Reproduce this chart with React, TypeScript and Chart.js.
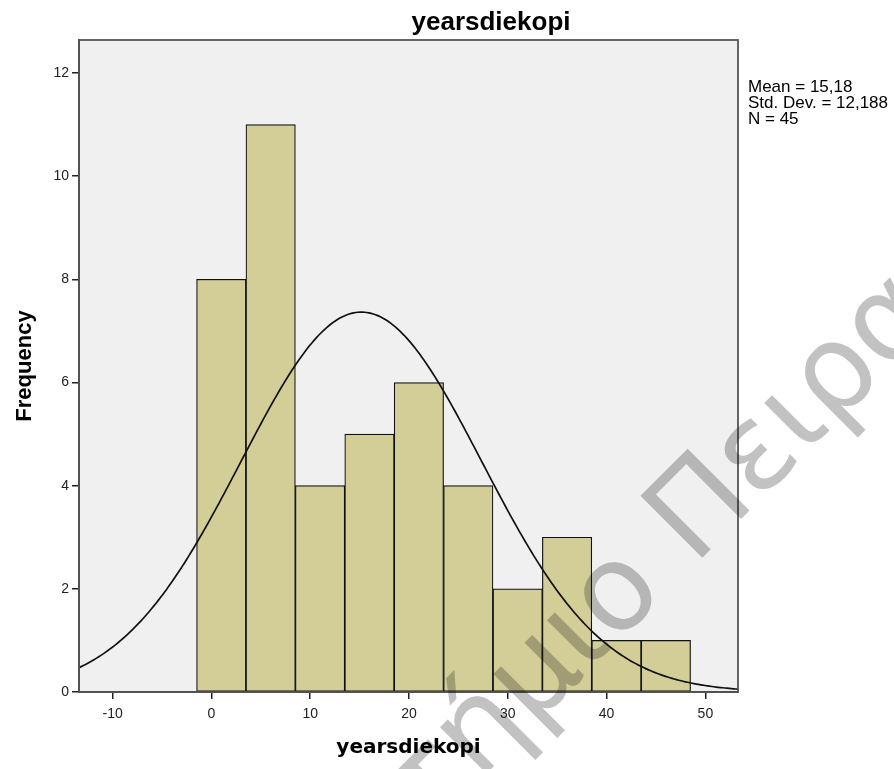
import React, { useEffect, useRef } from 'react';
import { Chart, registerables } from 'chart.js';
Chart.register(...registerables);

// Histogram data
const binCenters = [1, 6, 11, 16, 21, 26, 31, 36, 41, 46];
const frequencies = [8, 11, 4, 5, 6, 4, 2, 3, 1, 1];
const xTickValues = [-10, 0, 10, 20, 30, 40, 50];
const yTickValues = [0, 2, 4, 6, 8, 10, 12];

// Summary statistics shown on the chart (the normal curve is fitted from them)
const MEAN = 15.18;
const SD = 12.188;
const N = 45;
const BIN_WIDTH = 5;
const statsLines = ['Mean = 15,18', 'Std. Dev. = 12,188', 'N = 45'];

const X_MIN = -13.4;
const X_MAX = 53.3;
const Y_MAX = 12.64;

const titleText = 'yearsdiekopi';
const xTitle = 'yearsdiekopi';
const yTitle = 'Frequency';
const watermarkPre = 'Πανεπιστήμιο ';
const watermarkPost = 'Πειραιώς';

function normalCurve() {
  const pts: { x: number; y: number }[] = [];
  const steps = 300;
  for (let i = 0; i <= steps; i++) {
    const x = X_MIN + ((X_MAX - X_MIN) * i) / steps;
    const z = (x - MEAN) / SD;
    const y = (N * BIN_WIDTH * Math.exp(-0.5 * z * z)) / (SD * Math.sqrt(2 * Math.PI));
    pts.push({ x, y });
  }
  return pts;
}

const decorPlugin = {
  id: 'decor',
  beforeDraw(chart: any) {
    const { ctx, chartArea: a } = chart;
    ctx.save();
    ctx.fillStyle = '#ffffff';
    ctx.fillRect(0, 0, chart.width, chart.height);
    ctx.fillStyle = '#f0f0f0';
    ctx.fillRect(a.left, a.top, a.right - a.left, a.bottom - a.top);
    ctx.restore();
  },
  afterDatasetsDraw(chart: any) {
    const { ctx, chartArea: a } = chart;
    ctx.save();
    ctx.strokeStyle = '#555555';
    ctx.lineWidth = 1.8;
    ctx.strokeRect(a.left, a.top, a.right - a.left, a.bottom - a.top);
    ctx.restore();
  },
  afterDraw(chart: any) {
    const { ctx } = chart;
    ctx.save();
    ctx.fillStyle = '#000000';
    ctx.font = 'bold 26px "Liberation Sans", Arial, sans-serif';
    ctx.textAlign = 'center';
    ctx.textBaseline = 'alphabetic';
    ctx.fillText(titleText, 491, 30);

    ctx.font = '17px "Liberation Sans", Arial, sans-serif';
    ctx.textAlign = 'left';
    statsLines.forEach((t, i) => ctx.fillText(t, 748, 92 + i * 16));

    // watermark
    ctx.globalCompositeOperation = 'multiply';
    ctx.translate(694, 566);
    ctx.rotate(-Math.PI / 4);
    ctx.font = '120px "DejaVu Sans", sans-serif';
    ctx.fillStyle = '#c2c2c2';
    ctx.textBaseline = 'alphabetic';
    ctx.textAlign = 'left';
    const w = ctx.measureText(watermarkPre).width;
    ctx.fillText(watermarkPre + watermarkPost, -w, 0);
    ctx.restore();
  },
};

export default function App() {
  const ref = useRef<HTMLCanvasElement>(null);
  useEffect(() => {
    if (!ref.current) return;
    const chart = new Chart(ref.current, {
      type: 'bar',
      data: {
        datasets: [
          {
            type: 'line',
            data: normalCurve(),
            borderColor: '#111111',
            borderWidth: 1.7,
            pointRadius: 0,
            tension: 0,
            order: 0,
          } as any,
          {
            type: 'bar',
            data: binCenters.map((c, i) => ({ x: c, y: frequencies[i] })),
            backgroundColor: '#d3ce98',
            borderColor: '#111111',
            borderWidth: 1.2,
            borderSkipped: false,
            barPercentage: 1,
            categoryPercentage: 1,
            order: 1,
          } as any,
        ],
      },
      options: {
        responsive: false,
        animation: false,
        layout: { padding: { top: 40, right: 156, left: 0, bottom: 0 } },
        plugins: { legend: { display: false }, tooltip: { enabled: false }, title: { display: false } },
        scales: {
          x: {
            type: 'linear',
            min: X_MIN,
            max: X_MAX,
            offset: false,
            afterBuildTicks: (s: any) => {
              s.ticks = xTickValues.map((v) => ({ value: v }));
            },
            afterFit: (s: any) => {
              s.height = 77;
            },
            grid: { display: true, offset: false, drawOnChartArea: false, drawTicks: true, tickLength: 7, color: '#222222', lineWidth: 1.5 },
            border: { display: true, color: '#222222', width: 1.8 },
            ticks: {
              color: '#222222',
              font: { family: '"Liberation Sans", Arial, sans-serif', size: 14 },
              padding: 7,
              maxRotation: 0,
              autoSkip: false,
            },
            title: {
              display: true,
              text: xTitle,
              color: '#000000',
              font: { family: '"DejaVu Sans", sans-serif', size: 20, weight: 'bold' },
              padding: { top: 0, bottom: 9 },
            },
          },
          y: {
            type: 'linear',
            min: 0,
            max: Y_MAX,
            afterBuildTicks: (s: any) => {
              s.ticks = yTickValues.map((v) => ({ value: v }));
            },
            afterFit: (s: any) => {
              s.width = 79;
            },
            grid: { display: true, offset: false, drawOnChartArea: false, drawTicks: true, tickLength: 7, color: '#222222', lineWidth: 1.5 },
            border: { display: true, color: '#222222', width: 1.8 },
            ticks: {
              color: '#222222',
              font: { family: '"Liberation Sans", Arial, sans-serif', size: 14 },
              padding: 3,
              autoSkip: false,
            },
            title: {
              display: true,
              text: yTitle,
              color: '#000000',
              font: { family: '"Liberation Sans", Arial, sans-serif', size: 22, weight: 'bold' },
              padding: { top: 12, bottom: 0 },
            },
          },
        },
      },
      plugins: [decorPlugin],
    });
    return () => chart.destroy();
  }, []);
  return (
    <div style={{ position: 'absolute', left: 0, top: 0, width: 894, height: 769 }}>
      <canvas ref={ref} width={894} height={769} style={{ width: 894, height: 769 }} />
    </div>
  );
}
